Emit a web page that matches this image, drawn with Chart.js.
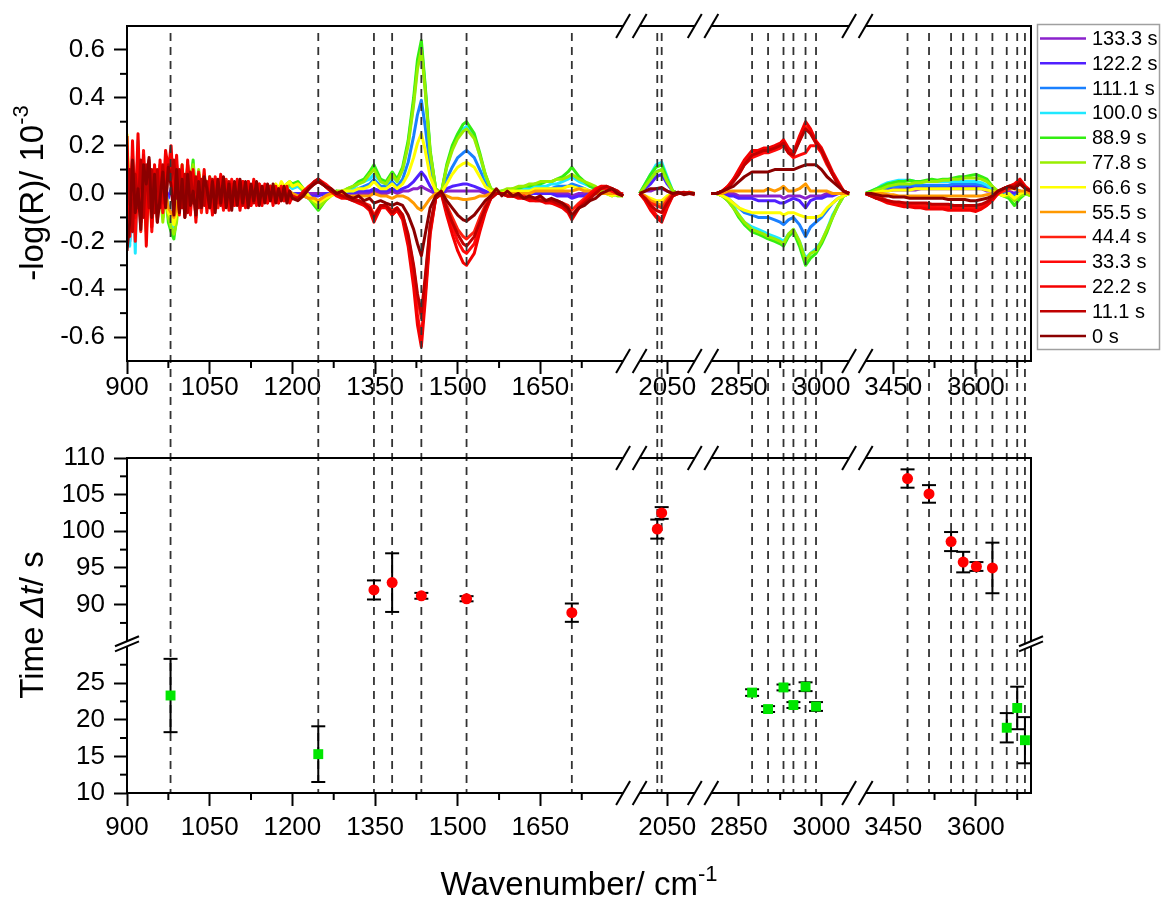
<!DOCTYPE html>
<html>
<head>
<meta charset="utf-8">
<script src="https://cdn.jsdelivr.net/npm/chart.js@4.4.1/dist/chart.umd.min.js"></script>
<style>
  body { margin: 0; background: #fff; }
  #wrap { position: relative; width: 1161px; height: 899px; }
  canvas { position: absolute; left: 0; }
  #spectra { top: 0; }
  #times { top: 430px; }
</style>
</head>
<body>
<div id="wrap">
  <canvas id="spectra" width="1161" height="430"></canvas>
  <canvas id="times" width="1161" height="469"></canvas>
</div>
<script>
// broken wavenumber axis: kept ranges, gap between them in axis units
const segments = [[900, 1800], [2000, 2100], [2800, 3050], [3400, 3700]];
const segGap = 30;

const xMajor = [900, 1050, 1200, 1350, 1500, 1650, 2050, 2850, 3000, 3450, 3600];
const xMinor = [975, 1125, 1275, 1425, 1575, 1725, 2925, 3525, 3675];
const yTopMajor = [-0.6, -0.4, -0.2, 0, 0.2, 0.4, 0.6];
const yTopMinor = [-0.5, -0.3, -0.1, 0.1, 0.3, 0.5];
const timeMajor = [10, 15, 20, 25, 90, 95, 100, 105, 110];
const timeMinor = [12.5, 17.5, 22.5, 27.5, 87.5, 92.5, 97.5, 102.5, 107.5];

// dashed marker lines (band positions)
const bandWn = [979, 1247, 1348, 1381, 1434, 1516, 1707, 2032, 2040, 2874, 2903, 2931, 2949, 2971, 2990,
  3476, 3515, 3555, 3577, 3601, 3630, 3656, 3675, 3689];

// lower panel: onset times with errors
const redWn = [1348, 1381, 1434, 1516, 1707, 2032, 2040, 3476, 3515, 3555, 3577, 3601, 3630];
const redTime = [92.0, 93.0, 91.2, 90.8, 88.9, 100.3, 102.5, 107.2, 105.1, 98.6, 95.8, 95.2, 95.0];
const redErr = [1.3, 4.0, 0.4, 0.35, 1.25, 1.3, 0.8, 1.25, 1.2, 1.3, 1.4, 0.6, 3.45];
const greenWn = [979, 1247, 2874, 2903, 2931, 2949, 2971, 2990, 3656, 3675, 3689];
const greenTime = [23.3, 15.3, 23.7, 21.45, 24.4, 22.0, 24.5, 21.8, 18.9, 21.6, 17.2];
const greenErr = [5.0, 3.8, 0.45, 0.4, 0.4, 0.4, 0.6, 0.6, 2.0, 2.9, 3.15];

// spectrum wavenumber grid
const wnNoise = [900, 905, 910, 915, 920, 925, 930, 935, 940, 945,
  950, 955, 960, 965, 970, 975, 980, 985, 990, 995,
  1000, 1005, 1010, 1015, 1020, 1025, 1030, 1035, 1040, 1045,
  1050, 1055, 1060, 1065, 1070, 1075, 1080, 1085, 1090, 1095,
  1100, 1105, 1110, 1115, 1120, 1125, 1130, 1135, 1140, 1145,
  1150, 1155, 1160, 1165, 1170, 1175, 1180, 1185, 1190, 1195,
  1200];
const wnBands = [1210, 1220, 1230, 1240, 1247, 1260, 1270, 1280, 1290, 1300,
  1310, 1320, 1330, 1340, 1348, 1360, 1370, 1381, 1390, 1400,
  1410, 1420, 1427, 1434, 1441, 1450, 1460, 1470, 1480, 1490,
  1500, 1510, 1516, 1530, 1540, 1550, 1560, 1570, 1580, 1590,
  1600, 1610, 1620, 1630, 1640, 1650, 1660, 1670, 1680, 1690,
  1700, 1707, 1720, 1730, 1740, 1750, 1760, 1770, 1780, 1790,
  1800];
const wnCO = [2000, 2010, 2020, 2030, 2040, 2050, 2060, 2070, 2080, 2090, 2100];
const wnCH = [2800, 2810, 2820, 2830, 2840, 2850, 2860, 2874, 2885, 2895,
  2903, 2915, 2925, 2931, 2940, 2949, 2960, 2971, 2980, 2990,
  3000, 3010, 3020, 3030, 3040, 3050];
const wnOH = [3400, 3410, 3420, 3430, 3440, 3450, 3460, 3470, 3480, 3490,
  3500, 3510, 3520, 3530, 3540, 3550, 3560, 3570, 3580, 3590,
  3600, 3610, 3620, 3630, 3640, 3650, 3660, 3670, 3680, 3690,
  3700];
const wnAll = [...wnNoise, ...wnBands, ...wnCO, ...wnCH, ...wnOH];

// -log(R) / 1e-3, one array per time step, same order as wnAll
const s0 = [
  -.24, -.12, .14, -.08, .02, -.15, .12, .04, .15, -.10,
  .08, -.12, -.02, .09, -.06, .11, .03, -.09, .10, -.08,
  .06, -.10, .08, -.05, .01, -.09, .05, -.06, .07, .02,
  -.06, .05, -.08, .06, -.04, .07, -.06, .04, -.07, .05,
  -.05, .06, -.04, .05, -.06, .04, -.03, .05, -.05, .03,
  -.04, .04, -.03, .04, -.04, .02, -.03, .03, -.04, .01,
  -.02,
  -.03, -.01, .02, .04, .05, .03, .02, .00, .01, -.01,
  -.02, -.01, -.03, -.02, -.04, -.03, -.04, -.05, -.04, -.05,
  -.09, -.15, -.21, -.26, -.17, -.06, -.01, .01, -.03, -.06,
  -.09, -.11, -.115, -.09, -.06, -.03, -.01, .02, -.01, .01,
  -.01, .00, -.02, -.01, -.02, -.01, -.03, -.02, -.03, -.04,
  -.06, -.09, -.06, -.05, -.03, -.02, .00, .01, .02, .00,
  -.01,
  .00, .01, .02, .02, .025, .01, .00, .005, -.005, .00, .00,
  .00, .00, .01, .02, .03, .05, .07, .09, .09, .09,
  .09, .10, .10, .10, .10, .10, .11, .12, .12, .12,
  .10, .07, .05, .03, .01, .00,
  .00, .00, -.005, -.01, -.01, -.015, -.015, -.015, -.02, -.02,
  -.02, -.02, -.02, -.02, -.02, -.025, -.025, -.025, -.025, -.03,
  -.03, -.025, -.02, -.01, .01, .02, .03, .02, .04, .02,
  .01
];
const s11 = [
  -.05, .10, -.16, .08, -.06, .14, -.10, .12, -.06, .10,
  -.08, .10, -.06, .12, -.04, .12, .06, .14, -.02, .10,
  -.06, .08, -.08, .09, -.04, .07, -.06, .06, -.05, .05,
  -.06, .06, -.04, .05, -.05, .03, -.04, .05, -.03, .04,
  -.04, .03, -.05, .04, -.03, .03, -.04, .02, -.03, .03,
  -.02, .03, -.03, .02, -.02, .02, -.03, .01, -.02, .01,
  -.02,
  -.02, .00, .02, .05, .06, .03, .01, .00, -.01, -.02,
  -.03, -.03, -.04, -.06, -.10, -.05, -.05, -.08, -.06, -.09,
  -.17, -.30, -.42, -.50, -.35, -.13, -.02, .00, -.06, -.12,
  -.17, -.21, -.22, -.18, -.12, -.06, -.02, .00, .00, -.01,
  -.01, -.01, -.02, -.02, -.02, -.03, -.03, -.03, -.04, -.05,
  -.07, -.10, -.06, -.04, -.02, .00, .02, .03, .02, .01,
  -.01,
  .00, -.02, -.05, -.07, -.08, -.04, -.01, .00, .005, .00, -.005,
  .00, .00, .01, .02, .05, .08, .12, .16, .17, .18,
  .18, .19, .20, .21, .17, .16, .22, .27, .25, .21,
  .18, .13, .08, .04, .01, .00,
  .00, -.01, -.02, -.025, -.03, -.035, -.035, -.04, -.04, -.04,
  -.04, -.04, -.045, -.045, -.045, -.045, -.05, -.05, -.05, -.05,
  -.05, -.045, -.035, -.02, .01, .02, .03, .03, .05, .02,
  .01
];
const s22 = [
  .24, -.18, .22, -.10, .25, -.12, .16, -.22, .10, -.14,
  .12, -.08, .14, -.04, .18, .10, .20, -.02, .16, -.06,
  .12, -.10, .14, -.06, .10, -.12, .08, -.04, .10, -.08,
  .07, -.09, .06, -.04, .08, -.06, .05, -.07, .04, -.05,
  .06, -.07, .05, -.06, .05, -.05, .06, -.04, .04, -.05,
  .04, -.04, .03, -.05, .03, -.04, .02, -.03, .03, -.04,
  -.01,
  -.02, .01, .03, .05, .06, .03, .01, -.01, -.02, -.02,
  -.03, -.04, -.05, -.07, -.12, -.06, -.06, -.09, -.07, -.11,
  -.22, -.39, -.55, -.64, -.45, -.17, -.02, .00, -.09, -.17,
  -.24, -.29, -.30, -.25, -.16, -.08, -.02, .00, .00, -.01,
  -.01, -.02, -.02, -.03, -.03, -.03, -.04, -.04, -.05, -.06,
  -.08, -.11, -.06, -.03, -.01, .01, .03, .03, .02, .01,
  -.01,
  .00, -.03, -.07, -.10, -.12, -.06, -.01, .00, .00, .005, .00,
  .00, .00, .01, .03, .06, .10, .14, .18, .18, .19,
  .19, .20, .21, .225, .19, .17, .24, .30, .27, .22,
  .19, .14, .09, .05, .01, .00,
  .00, -.01, -.02, -.03, -.04, -.045, -.05, -.055, -.055, -.06,
  -.06, -.065, -.065, -.065, -.065, -.07, -.07, -.07, -.07, -.07,
  -.075, -.065, -.05, -.03, .00, .02, .03, .04, .06, .03,
  .01
];
const s33 = [
  .12, -.10, .16, -.20, .08, -.12, .18, -.08, .13, -.16,
  .06, -.10, .12, -.08, .14, .08, .16, .02, .12, -.09,
  .10, -.07, .12, -.09, .06, -.10, .09, -.05, .07, -.06,
  .05, -.08, .07, -.03, .05, -.07, .04, -.05, .06, -.03,
  .05, -.06, .05, -.04, .05, -.05, .04, -.05, .03, -.04,
  .03, -.04, .03, -.03, .02, -.04, .03, -.03, .02, -.03,
  -.02,
  -.02, .00, .03, .04, .06, .04, .02, .00, -.01, -.02,
  -.02, -.03, -.05, -.06, -.11, -.06, -.05, -.09, -.07, -.10,
  -.20, -.36, -.51, -.60, -.42, -.16, -.02, .00, -.07, -.14,
  -.20, -.24, -.25, -.21, -.14, -.07, -.02, .00, .00, -.01,
  -.01, -.01, -.02, -.02, -.03, -.03, -.03, -.04, -.04, -.05,
  -.07, -.10, -.05, -.03, .00, .02, .03, .02, .01, .00,
  -.01,
  .00, -.02, -.06, -.09, -.11, -.05, -.01, .005, .00, .00, .00,
  .00, .00, .01, .03, .05, .08, .12, .15, .16, .17,
  .17, .18, .19, .20, .17, .15, .16, .17, .20, .20,
  .17, .12, .08, .04, .01, .00,
  .00, -.01, -.02, -.025, -.035, -.04, -.045, -.05, -.05, -.05,
  -.055, -.055, -.055, -.06, -.06, -.06, -.06, -.06, -.065, -.065,
  -.065, -.06, -.045, -.025, .00, .02, .03, .03, .05, .02,
  .01
];
const s44 = [
  .10, -.14, .12, -.06, .18, -.16, .08, -.10, .14, -.08,
  .10, -.12, .08, -.06, .12, .06, .14, .04, .10, -.05,
  .08, -.09, .10, -.04, .08, -.07, .06, -.08, .05, -.04,
  .06, -.05, .04, -.06, .05, -.04, .06, -.03, .04, -.05,
  .04, -.05, .05, -.04, .05, -.04, .03, -.04, .04, -.03,
  .03, -.03, .03, -.03, .02, -.03, .02, -.03, .02, -.03,
  -.02,
  -.02, .00, .02, .04, .05, .03, .01, .00, -.01, -.01,
  -.02, -.03, -.04, -.05, -.09, -.05, -.05, -.07, -.06, -.09,
  -.18, -.31, -.44, -.52, -.37, -.14, -.02, .00, -.05, -.10,
  -.15, -.18, -.19, -.16, -.10, -.05, -.01, .00, .00, -.01,
  -.01, -.01, -.01, -.02, -.02, -.02, -.03, -.03, -.03, -.04,
  -.05, -.07, -.04, -.02, .00, .01, .02, .02, .01, .00,
  .00,
  .00, -.02, -.04, -.05, -.06, -.03, .00, .00, .00, .00, .00,
  .00, .00, .01, .03, .06, .09, .13, .17, .17, .18,
  .18, .19, .20, .21, .18, .17, .22, .28, .26, .21,
  .18, .13, .08, .04, .01, .00,
  .00, -.01, -.015, -.02, -.03, -.035, -.04, -.04, -.045, -.045,
  -.045, -.05, -.05, -.05, -.05, -.05, -.055, -.055, -.055, -.055,
  -.055, -.05, -.04, -.02, .00, .01, .02, .03, .04, .02,
  .01
];
const s55 = [
  .20, -.06, .10, -.08, .12, -.10, .06, -.08, .10, -.06,
  .02, -.06, .04, -.04, .00, -.06, -.08, -.10, -.06, .00,
  .06, -.04, .08, .00, .06, -.03, .05, -.02, .04, -.02,
  .04, -.02, .03, -.01, .04, -.02, .03, -.01, .02, .00,
  .02, -.01, .02, .00, .01, -.01, .02, .00, .01, .00,
  .01, .00, .02, .01, .02, .01, .03, .02, .02, .01,
  .00,
  -.01, -.01, -.02, -.02, -.03, -.01, .00, .00, .00, -.01,
  -.01, -.01, -.01, -.01, .00, -.01, -.01, -.02, -.01, -.01,
  -.02, -.04, -.06, -.07, -.05, -.02, .00, .00, -.01, -.02,
  -.02, -.025, -.025, -.02, -.01, -.01, .00, .00, .00, .00,
  .00, .00, .00, .00, .01, .01, .01, .01, .01, .01,
  .01, .01, .02, .01, .01, .00, .00, .00, .00, .00,
  .00,
  .00, -.01, -.03, -.04, -.05, -.02, .00, .00, .00, .00, .00,
  .00, .00, .00, .01, .01, .01, .01, .01, .01, .01,
  .02, .01, .02, .03, .01, .01, .02, .04, .01, .01,
  .01, .01, .00, .00, .00, .00,
  .00, .00, .00, .00, -.005, -.005, -.01, -.01, -.01, -.01,
  -.01, -.01, -.01, -.01, -.01, -.01, -.01, -.01, -.01, -.01,
  -.01, -.01, -.005, .00, .01, .01, .02, .02, .01, .01,
  .00
];
const s66 = [
  .25, -.08, .12, -.10, .08, -.12, .10, -.04, .06, -.10,
  .04, -.08, .06, -.06, .02, -.08, -.10, -.13, -.08, .02,
  .10, -.02, .08, .04, .10, -.02, .06, .02, .08, .00,
  .06, .01, .04, -.01, .05, .02, .04, -.01, .03, .01,
  .03, .00, .02, .01, .03, -.01, .02, .01, .03, .01,
  .02, .01, .03, .02, .04, .02, .05, .03, .04, .05,
  .03,
  .04, .02, -.01, -.03, -.04, -.02, -.01, .00, .01, .01,
  .01, .02, .02, .03, .05, .02, .02, .04, .02, .04,
  .08, .15, .21, .25, .18, .07, .01, .00, .04, .08,
  .11, .125, .13, .11, .07, .03, .01, .00, .00, .01,
  .01, .01, .01, .01, .02, .02, .02, .02, .02, .02,
  .03, .03, .02, .02, .01, .01, .00, .00, -.01, .00,
  -.01,
  .00, -.01, -.02, -.03, -.03, -.01, .00, .00, .00, .00, .00,
  .00, .00, -.01, -.02, -.04, -.06, -.07, -.08, -.08, -.08,
  -.08, -.08, -.08, -.09, -.08, -.08, -.09, -.10, -.10, -.10,
  -.09, -.06, -.04, -.02, -.01, .00,
  .00, .00, .005, .01, .01, .015, .015, .015, .015, .02,
  .02, .02, .02, .02, .02, .02, .02, .02, .02, .02,
  .02, .02, .015, .01, .00, -.01, .00, -.02, .00, .01,
  .00
];
const s78 = [
  .14, -.10, .10, -.12, .06, -.08, .12, -.06, .08, -.12,
  .06, -.06, .04, -.12, .00, -.10, -.14, -.17, -.12, .00,
  .12, -.04, .10, .06, .12, -.02, .10, .00, .07, -.02,
  .05, .02, .06, -.02, .04, .01, .05, -.02, .03, .02,
  .04, -.01, .03, .01, .02, -.01, .03, .01, .02, .00,
  .03, .00, .02, .01, .03, .02, .04, .03, .02, .04,
  .03,
  .04, .01, -.02, -.04, -.06, -.03, -.01, .01, .01, .02,
  .03, .04, .05, .08, .10, .05, .04, .08, .05, .10,
  .20, .37, .52, .60, .43, .17, .02, .00, .11, .18,
  .23, .26, .27, .23, .16, .08, .02, .01, .01, .02,
  .02, .03, .03, .04, .04, .05, .05, .05, .06, .06,
  .07, .08, .06, .05, .04, .03, .01, .00, .00, -.01,
  -.01,
  .00, .03, .06, .09, .10, .05, .01, .00, .00, .00, .00,
  .00, .00, -.01, -.03, -.06, -.09, -.12, -.15, -.16, -.17,
  -.18, -.19, -.20, -.21, -.17, -.15, -.20, -.28, -.25, -.24,
  -.20, -.15, -.10, -.05, -.01, .00,
  .00, .005, .015, .02, .03, .035, .04, .04, .04, .045,
  .045, .05, .05, .05, .055, .055, .06, .06, .065, .065,
  .065, .06, .05, .03, .01, -.01, -.01, -.03, -.01, .00,
  -.01
];
const s89 = [
  .10, -.14, .08, -.06, .12, -.10, .06, -.16, .04, -.08,
  .08, -.04, .06, -.10, .02, -.12, -.16, -.19, -.10, .02,
  .10, -.06, .12, .04, .14, -.04, .08, .02, .06, -.03,
  .07, .01, .05, -.04, .06, .00, .04, -.03, .05, .01,
  .03, -.03, .04, .00, .03, -.02, .02, .00, .03, -.01,
  .02, -.01, .03, .00, .02, .01, .03, .02, .04, .05,
  .04,
  .05, .02, -.02, -.05, -.07, -.03, .00, .01, .00, .02,
  .03, .05, .06, .09, .12, .06, .05, .09, .06, .11,
  .22, .40, .56, .64, .45, .18, .02, .00, .12, .20,
  .25, .29, .30, .25, .17, .08, .02, .00, .01, .01,
  .02, .02, .03, .03, .04, .04, .05, .05, .06, .07,
  .09, .11, .07, .05, .03, .02, .01, .00, -.01, .00,
  -.01,
  .00, .04, .08, .11, .12, .06, .01, .00, .00, .005, .00,
  .00, .00, -.01, -.03, -.06, -.10, -.13, -.16, -.17, -.18,
  -.19, -.20, -.21, -.22, -.18, -.16, -.22, -.30, -.27, -.25,
  -.21, -.16, -.10, -.05, -.01, .00,
  .00, .01, .02, .03, .04, .045, .05, .05, .055, .05,
  .05, .055, .06, .055, .06, .06, .065, .07, .07, .075,
  .08, .07, .06, .03, .00, -.01, -.02, -.05, -.02, .00,
  -.01
];
const s100 = [
  .06, -.22, .12, -.25, .22, -.08, .10, -.12, .06, -.10,
  .09, -.05, .08, -.08, .04, -.10, -.12, -.14, -.08, .03,
  .08, -.05, .10, .03, .11, -.03, .06, .01, .05, -.02,
  .06, -.01, .04, -.03, .05, -.01, .03, -.04, .04, .00,
  .02, -.03, .03, -.01, .02, -.02, .02, -.01, .02, .00,
  .01, -.01, .02, .00, .01, .01, .02, .01, .02, .03,
  .02,
  .03, .01, -.02, -.04, -.05, -.02, .00, .01, .00, .01,
  .02, .04, .05, .06, .08, .05, .04, .07, .05, .10,
  .21, .38, .54, .62, .44, .17, .02, .00, .11, .19,
  .24, .27, .28, .24, .16, .07, .02, .00, .01, .01,
  .01, .02, .02, .02, .03, .03, .03, .04, .04, .05,
  .06, .07, .05, .04, .03, .02, .01, .00, .00, .00,
  -.01,
  .00, .04, .08, .12, .13, .07, .01, .00, .00, .00, .00,
  .00, .00, -.01, -.03, -.05, -.09, -.12, -.14, -.15, -.16,
  -.17, -.18, -.19, -.20, -.17, -.15, -.20, -.27, -.25, -.23,
  -.20, -.15, -.09, -.05, -.01, .00,
  .00, .01, .02, .035, .045, .05, .055, .055, .055, .05,
  .05, .05, .05, .05, .05, .05, .05, .05, .05, .05,
  .05, .045, .035, .02, .00, -.01, .00, -.02, -.01, .01,
  .00
];
const s111 = [
  .04, -.16, .08, -.10, .06, -.08, .08, -.06, .05, -.08,
  .06, -.04, .05, -.06, .02, -.05, -.08, -.09, -.05, .02,
  .06, -.04, .05, -.02, .06, -.03, .04, -.02, .04, -.03,
  .04, -.02, .03, -.04, .03, -.02, .02, -.05, .02, -.01,
  .02, -.02, .01, -.01, .02, -.02, .01, -.01, .01, .00,
  .01, -.01, .01, .00, .01, .00, .01, .00, .01, .00,
  .00,
  -.01, -.01, -.02, -.03, -.03, -.01, .00, .00, .00, .01,
  .01, .02, .03, .04, .06, .03, .03, .05, .03, .06,
  .13, .24, .33, .39, .28, .11, .01, .00, .06, .11,
  .15, .17, .18, .15, .10, .05, .01, .00, .00, .01,
  .01, .01, .01, .02, .02, .02, .02, .02, .03, .03,
  .03, .04, .03, .02, .01, .01, .00, .00, .00, .00,
  .00,
  .00, .03, .06, .09, .10, .05, .01, .00, .00, .00, .00,
  .00, .00, -.01, -.02, -.04, -.06, -.08, -.09, -.10, -.10,
  -.10, -.11, -.12, -.13, -.11, -.10, -.13, -.18, -.14, -.12,
  -.10, -.07, -.04, -.02, -.01, .00,
  .00, .005, .01, .02, .025, .03, .03, .03, .035, .035,
  .035, .035, .035, .035, .035, .035, .04, .04, .04, .04,
  .04, .035, .03, .015, .00, .00, -.01, -.01, .00, .01,
  .00
];
const s122 = [
  .03, -.20, .06, -.08, .04, -.06, .05, -.04, .03, -.05,
  .04, -.03, .03, -.04, .01, -.02, .02, -.03, -.02, .01,
  .03, -.02, .03, -.01, .02, -.02, .02, -.01, .02, -.02,
  .02, -.01, .02, -.03, .01, -.02, .01, -.05, .01, -.01,
  .01, -.01, .01, -.01, .01, -.01, .01, -.01, .01, .00,
  .01, .00, .01, .00, .01, .00, .01, .00, .00, .00,
  .00,
  .00, .00, -.01, -.01, -.01, .00, .00, .00, .00, .00,
  .00, .01, .01, .01, .02, .01, .01, .02, .01, .02,
  .03, .05, .07, .09, .07, .03, .00, .00, .02, .03,
  .035, .04, .04, .03, .02, .01, .00, .00, .00, .00,
  .00, .00, .00, .00, .00, .00, .00, .00, -.01, -.01,
  -.01, -.02, -.01, -.01, .00, .00, .00, .00, .00, .00,
  .00,
  .00, .02, .04, .07, .08, .04, .01, .00, .00, .00, .00,
  .00, .00, .00, -.01, -.01, -.02, -.02, -.02, -.03, -.03,
  -.03, -.03, -.04, -.04, -.03, -.02, -.03, -.06, -.03, -.02,
  -.02, -.01, -.01, .00, .00, .00,
  .00, .00, .01, .015, .02, .02, .02, .025, .025, .025,
  .025, .025, .025, .03, .03, .03, .03, .03, .03, .03,
  .03, .025, .02, .01, .00, .00, .00, .00, .01, .00,
  .00
];
const s133 = [
  .02, -.06, .04, -.05, .03, -.04, .03, -.03, .02, -.03,
  .02, -.02, .02, -.02, .01, -.01, .01, -.02, .01, .00,
  .02, -.01, .02, -.01, .01, -.01, .01, -.01, .01, -.01,
  .01, -.01, .01, -.01, .01, -.01, .01, -.01, .01, .00,
  .01, .00, .01, .00, .01, .00, .01, .00, .00, .00,
  .00, .00, .00, .00, .00, .00, .00, .00, .00, .00,
  .00,
  .00, .00, .00, .00, .00, .00, .00, .00, .00, .00,
  .00, .00, .00, .00, .01, .00, .00, .01, .00, .01,
  .01, .02, .02, .03, .02, .01, .00, .00, .01, .01,
  .01, .01, .01, .01, .01, .00, .00, .00, .00, .00,
  .00, .00, .00, .00, .00, .00, .00, .00, .00, .00,
  .00, -.01, .00, .00, .00, .00, .00, .00, .00, .00,
  .00,
  .00, .01, .01, .02, .02, .01, .00, .00, .00, .00, .00,
  .00, .00, .00, .00, .00, -.01, -.01, -.01, -.01, -.01,
  -.01, -.01, -.01, -.02, -.01, -.01, -.01, -.02, -.01, -.01,
  -.01, .00, .00, .00, .00, .00,
  .00, .00, .005, .01, .01, .015, .015, .015, .015, .015,
  .02, .02, .02, .02, .02, .02, .02, .02, .02, .02,
  .02, .02, .01, .01, .00, .00, .01, .00, .01, .00,
  .00
];

const legendLabels = ['133.3 s', '122.2 s', '111.1 s', '100.0 s', '88.9 s', '77.8 s', '66.6 s',
  '55.5 s', '44.4 s', '33.3 s', '22.2 s', '11.1 s', '0 s'];
const legendColors = ['#8b22cc', '#5020ff', '#1a80ff', '#20e8ff', '#33ee11', '#99ee00', '#ffff00',
  '#ff9900', '#ff2010', '#ff0a0a', '#f40000', '#c00000', '#8b0000'];
const seriesValues = [s133, s122, s111, s100, s89, s78, s66, s55, s44, s33, s22, s11, s0];

const fontFamily = "'Liberation Sans', Arial, sans-serif";
Chart.defaults.font.family = fontFamily;
Chart.defaults.color = '#000';

function segIndex(w) {
  for (let k = 0; k < segments.length; k++) {
    if (w <= segments[k][1]) return k;
  }
  return segments.length - 1;
}

function toAxis(w) {
  let off = 0;
  for (let k = 0; k < segments.length; k++) {
    const [lo, hi] = segments[k];
    if (w <= hi || k === segments.length - 1) return off + (w - lo);
    off += (hi - lo) + segGap;
  }
}
const xMax = toAxis(3700);

// broken time axis: 10-30 below, 85-110 above
const timeGap = 0.7;
function toTime(v) {
  return v <= 30 ? v - 10 : 20 + timeGap + (v - 85);
}

function spectrumPoints(values) {
  const pts = [];
  wnAll.forEach((w, i) => {
    if (i > 0 && segIndex(w) !== segIndex(wnAll[i - 1])) {
      pts.push({ x: toAxis(w) - segGap / 2, y: null });
    }
    pts.push({ x: toAxis(w), y: values[i] });
  });
  return pts;
}

function line(ctx, x0, y0, x1, y1) {
  ctx.beginPath();
  ctx.moveTo(x0, y0);
  ctx.lineTo(x1, y1);
  ctx.stroke();
}

function brokenXLine(chart, y) {
  const ctx = chart.ctx, xs = chart.scales.x, area = chart.chartArea;
  segments.forEach(([lo, hi], k) => {
    const x0 = k === 0 ? area.left : xs.getPixelForValue(toAxis(lo));
    const x1 = k === segments.length - 1 ? area.right : xs.getPixelForValue(toAxis(hi));
    line(ctx, x0, y, x1, y);
    if (k > 0) line(ctx, x0 - 7, y + 12, x0 + 7, y - 12);
    if (k < segments.length - 1) line(ctx, x1 - 7, y + 12, x1 + 7, y - 12);
  });
}

function minorTicks(chart, yValues, mapY) {
  const ctx = chart.ctx, area = chart.chartArea;
  xMinor.forEach(w => {
    const x = chart.scales.x.getPixelForValue(toAxis(w));
    line(ctx, x, area.bottom, x, area.bottom + 7);
  });
  yValues.forEach(v => {
    const y = chart.scales.y.getPixelForValue(mapY(v));
    line(ctx, area.left - 7, y, area.left, y);
  });
}

function bandLines(chart, y0, y1, offset) {
  const ctx = chart.ctx;
  ctx.save();
  ctx.setLineDash([8, 6]);
  ctx.lineDashOffset = offset;
  ctx.lineWidth = 1.8;
  ctx.strokeStyle = '#333';
  bandWn.forEach(w => {
    const x = chart.scales.x.getPixelForValue(toAxis(w));
    line(ctx, x, y0, x, y1);
  });
  ctx.restore();
}

function richText(ctx, parts, cx, baseline, vertical) {
  ctx.save();
  ctx.translate(vertical ? baseline : cx, vertical ? cx : baseline);
  if (vertical) ctx.rotate(-Math.PI / 2);
  ctx.fillStyle = '#000';
  ctx.textBaseline = 'alphabetic';
  ctx.textAlign = 'left';
  let total = 0;
  parts.forEach(p => { ctx.font = p.font; p.w = ctx.measureText(p.text).width; total += p.w; });
  let x = -total / 2;
  parts.forEach(p => {
    ctx.font = p.font;
    ctx.fillText(p.text, x, -(p.rise || 0));
    x += p.w;
  });
  ctx.restore();
}

const f33 = '33px ' + fontFamily;
const f22 = '22px ' + fontFamily;

const spectraDecor = {
  id: 'spectraDecor',
  afterDraw(chart) {
    const ctx = chart.ctx, a = chart.chartArea;
    bandLines(chart, 33, chart.height, 0);
    ctx.save();
    ctx.strokeStyle = '#000';
    ctx.lineWidth = 2;
    brokenXLine(chart, a.top);
    brokenXLine(chart, a.bottom);
    line(ctx, a.left, a.top - 1, a.left, a.bottom + 1);
    line(ctx, a.right, a.top - 1, a.right, a.bottom + 1);
    minorTicks(chart, yTopMinor, v => v);
    ctx.restore();

    richText(ctx, [{ text: '-log(R)/ 10', font: f33 }, { text: '-3', font: f22, rise: 15 }], 193, 43, true);

    // legend
    ctx.save();
    ctx.strokeStyle = '#a0a0a0';
    ctx.lineWidth = 1.5;
    ctx.strokeRect(1037.5, 24.5, 122, 325);
    ctx.font = '20px ' + fontFamily;
    ctx.textBaseline = 'middle';
    ctx.fillStyle = '#000';
    legendLabels.forEach((label, k) => {
      const y = 38.5 + k * 24.8;
      ctx.strokeStyle = legendColors[k];
      ctx.lineWidth = 2.5;
      line(ctx, 1040, y, 1086, y);
      ctx.fillText(label, 1092, y + 1);
    });
    ctx.restore();
  }
};

const timesDecor = {
  id: 'timesDecor',
  beforeDatasetsDraw(chart) {
    const ctx = chart.ctx, xs = chart.scales.x, ys = chart.scales.y;
    bandLines(chart, 0, chart.chartArea.bottom, (430 - 33) % 14);
    ctx.save();
    ctx.strokeStyle = '#000';
    ctx.lineWidth = 2;
    [[redWn, redTime, redErr], [greenWn, greenTime, greenErr]].forEach(([wn, t, e]) => {
      wn.forEach((w, i) => {
        const x = xs.getPixelForValue(toAxis(w));
        const yt = ys.getPixelForValue(toTime(t[i] + e[i]));
        const yb = ys.getPixelForValue(toTime(t[i] - e[i]));
        line(ctx, x, yt, x, yb);
        line(ctx, x - 7, yt, x + 7, yt);
        line(ctx, x - 7, yb, x + 7, yb);
      });
    });
    ctx.restore();
  },
  afterDraw(chart) {
    const ctx = chart.ctx, a = chart.chartArea, ys = chart.scales.y;
    ctx.save();
    ctx.strokeStyle = '#000';
    ctx.lineWidth = 2;
    brokenXLine(chart, a.top);
    brokenXLine(chart, a.bottom);
    line(ctx, a.left, a.top - 1, a.left, a.bottom + 1);
    line(ctx, a.right, a.top - 1, a.right, a.bottom + 1);
    minorTicks(chart, timeMinor, toTime);

    // break marks on both time axes
    const yLow = ys.getPixelForValue(toTime(30));
    const yHigh = ys.getPixelForValue(toTime(85));
    [a.left, a.right].forEach(x => {
      ctx.fillStyle = '#fff';
      ctx.beginPath();
      ctx.moveTo(x - 12, yLow + 5);
      ctx.lineTo(x + 12, yLow - 5);
      ctx.lineTo(x + 12, yHigh - 5);
      ctx.lineTo(x - 12, yHigh + 5);
      ctx.closePath();
      ctx.fill();
      line(ctx, x - 12, yLow + 5, x + 12, yLow - 5);
      line(ctx, x - 12, yHigh + 5, x + 12, yHigh - 5);
    });
    ctx.restore();

    richText(ctx, [{ text: 'Time ', font: f33 }, { text: '\u0394t', font: 'italic ' + f33 },
      { text: '/ s', font: f33 }], 195, 43, true);
    richText(ctx, [{ text: 'Wavenumber/ cm', font: f33 }, { text: '-1', font: f22, rise: 14 }],
      (a.left + a.right) / 2, 465, false);
  }
};

const tickGrid = { drawOnChartArea: false, tickLength: 13, tickWidth: 2, tickColor: '#000' };

function xScale(height, padding) {
  return {
    type: 'linear', min: 0, max: xMax,
    afterBuildTicks: s => { s.ticks = xMajor.map(w => ({ value: toAxis(w) })); },
    afterFit: s => { s.height = height; },
    ticks: { callback: (v, i) => String(xMajor[i]), autoSkip: false, maxRotation: 0,
      padding: padding, font: { size: 26 } },
    grid: tickGrid,
    border: { display: false }
  };
}

new Chart(document.getElementById('spectra'), {
  type: 'line',
  data: {
    // first dataset is painted last, so 0 s ends up on top
    datasets: seriesValues.map((vals, k) => ({
      label: legendLabels[k],
      data: spectrumPoints(vals),
      borderColor: legendColors[k],
      borderWidth: 3,
      pointRadius: 0,
      tension: 0,
      fill: false,
      borderJoinStyle: 'round'
    })).reverse()
  },
  options: {
    responsive: false,
    animation: false,
    devicePixelRatio: 1,
    layout: { padding: { top: 26, right: 130, left: 0, bottom: 0 } },
    plugins: { legend: { display: false }, tooltip: { enabled: false } },
    scales: {
      x: xScale(69, -2),
      y: {
        type: 'linear', min: -0.7, max: 0.7,
        afterBuildTicks: s => { s.ticks = yTopMajor.map(v => ({ value: v })); },
        afterFit: s => { s.width = 127; },
        ticks: { callback: (v, i) => yTopMajor[i].toFixed(1), padding: 9, font: { size: 26 } },
        grid: tickGrid,
        border: { display: false }
      }
    }
  },
  plugins: [spectraDecor]
});

new Chart(document.getElementById('times'), {
  type: 'line',
  data: {
    datasets: [
      {
        label: 'red',
        data: redWn.map((w, i) => ({ x: toAxis(w), y: toTime(redTime[i]) })),
        showLine: false,
        pointStyle: 'circle',
        pointRadius: 5.5,
        pointBorderWidth: 0,
        pointBackgroundColor: '#ff0000'
      },
      {
        label: 'green',
        data: greenWn.map((w, i) => ({ x: toAxis(w), y: toTime(greenTime[i]) })),
        showLine: false,
        pointStyle: 'rect',
        pointRadius: 7,
        pointBorderWidth: 0,
        pointBackgroundColor: '#00e600'
      }
    ]
  },
  options: {
    responsive: false,
    animation: false,
    devicePixelRatio: 1,
    layout: { padding: { top: 28, right: 130, left: 0, bottom: 0 } },
    plugins: { legend: { display: false }, tooltip: { enabled: false } },
    scales: {
      x: xScale(106, 6),
      y: {
        type: 'linear', min: 0, max: toTime(110),
        afterBuildTicks: s => { s.ticks = timeMajor.map(v => ({ value: toTime(v) })); },
        afterFit: s => { s.width = 127; },
        ticks: { callback: (v, i) => String(timeMajor[i]), padding: 9, font: { size: 26 } },
        grid: tickGrid,
        border: { display: false }
      }
    }
  },
  plugins: [timesDecor]
});
</script>
</body>
</html>
